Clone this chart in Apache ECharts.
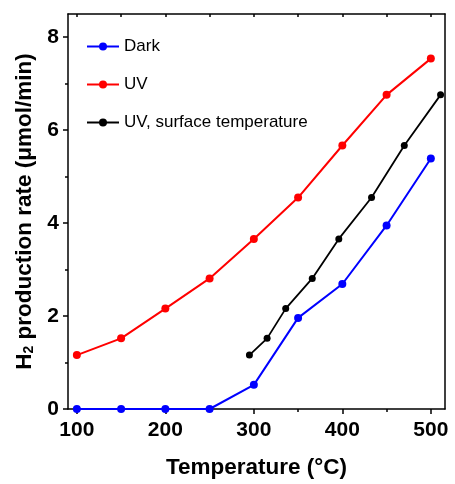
<!DOCTYPE html>
<html>
<head>
<meta charset="utf-8">
<script src="https://cdn.jsdelivr.net/npm/echarts@6/dist/echarts.min.js"></script>
<style>
  html, body { margin: 0; padding: 0; background: #fff; }
  #chart { width: 455px; height: 484px; }
</style>
</head>
<body>
<div id="chart"></div>
<script>
// temperature (°C) and H2 production rate (μmol/min)
var darkTemp = [100, 150, 200, 250, 300, 350, 400, 450, 500];
var darkRate = [0, 0, 0, 0, 0.52, 1.96, 2.69, 3.95, 5.39];

var uvTemp = [100, 150, 200, 250, 300, 350, 400, 450, 500];
var uvRate = [1.16, 1.52, 2.16, 2.81, 3.66, 4.55, 5.67, 6.76, 7.54];

var surfTemp = [295, 315, 336, 366, 396, 433, 470, 511];
var surfRate = [1.16, 1.52, 2.16, 2.81, 3.66, 4.55, 5.67, 6.76];

var xMajor = [100, 200, 300, 400, 500];
var xMinor = [150, 250, 350, 450];
var yMajor = [0, 2, 4, 6, 8];
var yMinor = [1, 3, 5, 7];

function pairs(xs, ys) {
  var out = [];
  for (var i = 0; i < xs.length; i++) {
    out.push([xs[i], ys[i]]);
  }
  return out;
}

var chart = echarts.init(document.getElementById('chart'));
var font = 'Liberation Sans, Arial, sans-serif';
var lineStyle = { color: '#000', width: 1.5 };

var option = {
  backgroundColor: '#fff',
  animation: false,
  textStyle: { fontFamily: font },
  grid: { left: 68, right: 10, top: 14, bottom: 74 },
  legend: {
    orient: 'vertical',
    left: 81,
    top: 33,
    itemGap: 21,
    itemWidth: 32,
    itemHeight: 10,
    textStyle: { fontSize: 17, color: '#000', fontFamily: font },
    data: ['Dark', 'UV', 'UV, surface temperature']
  },
  xAxis: [
    {
      type: 'value', min: 90, max: 516,
      name: 'Temperature (\u00B0C)', nameLocation: 'middle', nameGap: 47,
      nameTextStyle: { fontSize: 22.5, fontWeight: 'bold', color: '#000' },
      axisLine: { show: true, onZero: false, lineStyle: lineStyle },
      axisTick: { show: true, inside: false, length: 5, lineStyle: lineStyle, customValues: xMajor },
      axisLabel: { fontSize: 21, fontWeight: 'bold', color: '#000', margin: 11, customValues: xMajor },
      splitLine: { show: false }
    },
    {
      // minor ticks on the bottom
      type: 'value', min: 90, max: 516, position: 'bottom',
      axisLine: { show: false },
      axisTick: { show: true, inside: false, length: 3, lineStyle: lineStyle, customValues: xMinor },
      axisLabel: { show: false },
      splitLine: { show: false }
    },
    {
      // frame top
      type: 'value', min: 90, max: 516, position: 'top',
      axisLine: { show: true, onZero: false, lineStyle: lineStyle },
      axisTick: { show: true, inside: true, length: 3, lineStyle: lineStyle, customValues: xMajor.concat(xMinor) },
      axisLabel: { show: false },
      splitLine: { show: false }
    }
  ],
  yAxis: [
    {
      type: 'value', min: 0, max: 8.5,
      name: '{a|H}{s|2}{a| production rate (\u03BCmol/min)}',
      nameLocation: 'middle', nameGap: 30, nameRotate: 90,
      nameTextStyle: {
        color: '#000',
        rich: {
          a: { fontSize: 22.5, fontWeight: 'bold', color: '#000', fontFamily: font },
          s: { fontSize: 14, fontWeight: 'bold', color: '#000', fontFamily: font, verticalAlign: 'bottom', padding: [10, 0, 0, 0] }
        }
      },
      axisLine: { show: true, onZero: false, lineStyle: lineStyle },
      axisTick: { show: true, inside: false, length: 5, lineStyle: lineStyle, customValues: yMajor },
      axisLabel: { fontSize: 21, fontWeight: 'bold', color: '#000', margin: 9, customValues: yMajor },
      splitLine: { show: false }
    },
    {
      // minor ticks on the left
      type: 'value', min: 0, max: 8.5, position: 'left',
      axisLine: { show: false },
      axisTick: { show: true, inside: false, length: 3, lineStyle: lineStyle, customValues: yMinor },
      axisLabel: { show: false },
      splitLine: { show: false }
    },
    {
      // frame right
      type: 'value', min: 0, max: 8.5, position: 'right',
      axisLine: { show: true, onZero: false, lineStyle: lineStyle },
      axisTick: { show: false },
      axisLabel: { show: false },
      splitLine: { show: false }
    }
  ],
  series: [
    {
      name: 'Dark', type: 'line', xAxisIndex: 0, yAxisIndex: 0,
      data: pairs(darkTemp, darkRate),
      symbol: 'circle', symbolSize: 8,
      itemStyle: { color: '#0000ff' },
      lineStyle: { color: '#0000ff', width: 2 },
      z: 3
    },
    {
      name: 'UV', type: 'line', xAxisIndex: 0, yAxisIndex: 0,
      data: pairs(uvTemp, uvRate),
      symbol: 'circle', symbolSize: 8,
      itemStyle: { color: '#ff0000' },
      lineStyle: { color: '#ff0000', width: 2 },
      z: 3
    },
    {
      name: 'UV, surface temperature', type: 'line', xAxisIndex: 0, yAxisIndex: 0,
      data: pairs(surfTemp, surfRate),
      symbol: 'circle', symbolSize: 7,
      itemStyle: { color: '#000000' },
      lineStyle: { color: '#000000', width: 1.8 },
      clip: false,
      z: 4
    }
  ]
};

chart.setOption(option);
</script>
</body>
</html>
